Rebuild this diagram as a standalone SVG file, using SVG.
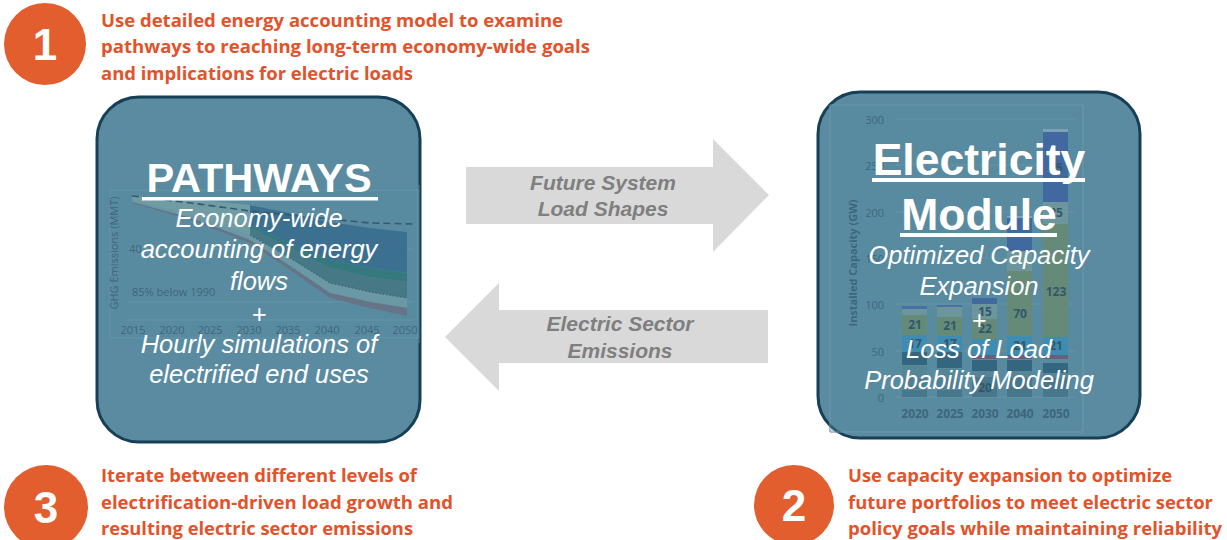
<svg xmlns="http://www.w3.org/2000/svg" width="1227" height="540" viewBox="0 0 1227 540">
<style>
.step{fill:#e35e2e}
.num{fill:#fff;font-family:"Liberation Sans",Arial,sans-serif;font-weight:bold;font-size:44px;text-anchor:middle}
.desc{fill:#e2532b;font-family:"Open Sans","Liberation Sans",sans-serif;font-weight:bold;font-size:18px}
.box{fill:#5a8ba1;stroke:#173f55;stroke-width:3}
.veil{fill:#5a8ba1;opacity:0.38}
.title{fill:#fff;font-family:"Liberation Sans",Arial,sans-serif;font-weight:bold;text-anchor:middle}
.sub{fill:#fff;font-family:"Liberation Sans",Arial,sans-serif;font-style:italic;font-size:25.5px;text-anchor:middle}
.arrow{fill:#d9d9d9}
.alabel{fill:#7f7f7f;font-family:"Liberation Sans",Arial,sans-serif;font-weight:bold;font-style:italic;font-size:21px;text-anchor:middle}
.ax{fill:#2b5066;font-family:"Open Sans","Liberation Sans",sans-serif;font-weight:bold;font-size:12px;text-anchor:middle}
.axs{fill:#2b5066;font-family:"Open Sans","Liberation Sans",sans-serif;font-size:11px}
.grid{stroke:#6b98ad;stroke-width:1}
.bl{fill:#17384a;font-family:"Open Sans","Liberation Sans",sans-serif;font-weight:bold;font-size:12px;text-anchor:middle}
</style>

<!-- Step 1 -->
<g id="step1">
  <circle class="step" cx="45" cy="44" r="41"/>
  <text class="num" x="45" y="60">1</text>
  <text class="desc" x="101" y="27" textLength="462" lengthAdjust="spacingAndGlyphs">Use detailed energy accounting model to examine</text>
  <text class="desc" x="101" y="53" textLength="489" lengthAdjust="spacingAndGlyphs">pathways to reaching long-term economy-wide goals</text>
  <text class="desc" x="101" y="80" textLength="312" lengthAdjust="spacingAndGlyphs">and implications for electric loads</text>
</g>

<!-- Step 3 -->
<g id="step3">
  <circle class="step" cx="46" cy="507" r="42"/>
  <text class="num" x="46" y="523">3</text>
  <text class="desc" x="101" y="482" textLength="316" lengthAdjust="spacingAndGlyphs">Iterate between different levels of</text>
  <text class="desc" x="101" y="509" textLength="352" lengthAdjust="spacingAndGlyphs">electrification-driven load growth and</text>
  <text class="desc" x="101" y="535" textLength="312" lengthAdjust="spacingAndGlyphs">resulting electric sector emissions</text>
</g>

<!-- Step 2 -->
<g id="step2">
  <circle class="step" cx="794" cy="505" r="40"/>
  <text class="num" x="794" y="521">2</text>
  <text class="desc" x="848" y="482" textLength="324" lengthAdjust="spacingAndGlyphs">Use capacity expansion to optimize</text>
  <text class="desc" x="848" y="509" textLength="365" lengthAdjust="spacingAndGlyphs">future portfolios to meet electric sector</text>
  <text class="desc" x="848" y="535" textLength="374" lengthAdjust="spacingAndGlyphs">policy goals while maintaining reliability</text>
</g>

<!-- PATHWAYS node -->
<g id="pathways">
  <rect class="box" x="97" y="97" width="323" height="345" rx="42"/>
  <g id="pathways-chart">
    <rect x="110" y="190" width="308" height="148" fill="none" stroke="#6a98ad" stroke-width="1"/>
    <line class="grid" x1="127" y1="249" x2="413" y2="249"/>
    <line class="grid" x1="127" y1="302" x2="413" y2="302"/>
    <line class="grid" x1="127" y1="320" x2="413" y2="320"/>
    <polygon fill="#7ea7a6" points="132,196 191,199 250,205 290,213 250,236 191,216 132,200"/>
    <polygon fill="#2a5f88" points="250,205 290,213 330,222 370,228 407,232 407,273 370,268 330,260 290,243 250,225"/>
    <polygon fill="#1f6f6a" points="250,225 290,243 330,260 370,268 407,273 407,282 370,277 330,268 290,248 250,228"/>
    <polygon fill="#3b6c76" points="250,228 290,248 330,268 370,277 407,282 407,298 370,292 330,283 290,258 250,235"/>
    <polygon fill="#74a0a6" points="132,200 191,215 250,235 290,258 330,283 370,292 407,298 407,308 370,302 330,293 290,266 250,240 191,218 132,202"/>
    <polygon fill="#6d6677" points="132,202 191,218 250,240 290,266 330,293 370,302 407,308 407,316 370,308 330,298 290,270 250,243 191,220 132,203"/>
    <polyline fill="none" stroke="#1b3d55" stroke-width="1" stroke-dasharray="1.5 2" points="250,235 290,258 330,283 370,292 407,298"/>
    <polyline fill="none" stroke="#1b3d55" stroke-width="1.6" stroke-dasharray="7 4" points="132,196 191,203 250,211 330,219 370,223 413,224"/>
    <text class="axs" x="129" y="253">40</text>
    <text class="axs" x="132" y="296">85% below 1990</text>
    <text class="axs" x="0" y="0" font-size="10" text-anchor="middle" transform="translate(118,253) rotate(-90)">GHG Emissions (MMT)</text>
    <g class="axs" text-anchor="middle" font-size="12">
      <text x="133" y="334">2015</text><text x="172" y="334">2020</text><text x="210" y="334">2025</text><text x="249" y="334">2030</text>
      <text x="288" y="334">2035</text><text x="327" y="334">2040</text><text x="367" y="334">2045</text><text x="405" y="334">2050</text>
    </g>
    <rect class="veil" x="105" y="185" width="315" height="158"/>
  </g>
  <text class="title" x="259" y="192" font-size="41.5">PATHWAYS</text>
  <rect x="142" y="197" width="236" height="3.5" fill="#fff"/>
  <text class="sub" x="259" y="227">Economy-wide</text>
  <text class="sub" x="259" y="258">accounting of energy</text>
  <text class="sub" x="259" y="290">flows</text>
  <text class="sub" x="259" y="323">+</text>
  <text class="sub" x="259" y="353">Hourly simulations of</text>
  <text class="sub" x="259" y="383">electrified end uses</text>
</g>

<!-- Electricity Module node -->
<g id="electricity">
  <path d="M830,420 V432 H842" fill="none" stroke="#cfd6da" stroke-width="1"/>
  <rect class="box" x="818" y="92" width="322" height="346" rx="42"/>
  <g id="electricity-chart">
    <path d="M830,105 H1083 V432 H830 Z" fill="none" stroke="#6a98ad" stroke-width="1"/>
    <g class="grid">
      <line x1="895" y1="397" x2="1075" y2="397"/><line x1="895" y1="351" x2="1075" y2="351"/>
      <line x1="895" y1="304" x2="1075" y2="304"/><line x1="895" y1="258" x2="1075" y2="258"/>
      <line x1="895" y1="212" x2="1075" y2="212"/><line x1="895" y1="165" x2="1075" y2="165"/>
      <line x1="895" y1="119" x2="1075" y2="119"/>
    </g>
    <g class="axs" font-size="14" text-anchor="end">
      <text x="884" y="124">300</text><text x="884" y="170">250</text><text x="884" y="217">200</text>
      <text x="884" y="263">150</text><text x="884" y="309">100</text><text x="884" y="356">50</text><text x="884" y="402">0</text>
    </g>
    <text class="axs" font-size="12.5" font-weight="bold" text-anchor="middle" transform="translate(857,263) rotate(-90)">Installed Capacity (GW)</text>
    <!-- 2020 -->
    <g>
      <rect x="902" y="390" width="25" height="7" fill="#3e6a7c"/>
      <rect x="902" y="378" width="25" height="11" fill="#4b7889"/>
      <rect x="902" y="366" width="25" height="11" fill="#55838f"/>
      <rect x="902" y="352" width="25" height="13" fill="#1d4f6b"/>
      <rect x="902" y="335" width="25" height="17" fill="#2f8dbd"/>
      <rect x="902" y="315" width="25" height="20" fill="#6c895f"/>
      <rect x="902" y="309" width="25" height="6" fill="#789c9a"/>
      <rect x="902" y="306" width="25" height="3" fill="#4060a8"/>
    </g>
    <!-- 2025 -->
    <g>
      <rect x="937" y="390" width="25" height="7" fill="#3e6a7c"/>
      <rect x="937" y="378" width="25" height="11" fill="#4b7889"/>
      <rect x="937" y="369" width="25" height="8" fill="#55838f"/>
      <rect x="937" y="352" width="25" height="16" fill="#1d4f6b"/>
      <rect x="937" y="336" width="25" height="16" fill="#2f8dbd"/>
      <rect x="937" y="317" width="25" height="19" fill="#6c895f"/>
      <rect x="937" y="307" width="25" height="10" fill="#789c9a"/>
      <rect x="937" y="305" width="25" height="2" fill="#4060a8"/>
    </g>
    <!-- 2030 -->
    <g>
      <rect x="972" y="377" width="25" height="20" fill="#3e6a7c"/>
      <rect x="972" y="371" width="25" height="6" fill="#55838f"/>
      <rect x="972" y="360" width="25" height="11" fill="#1d4f6b"/>
      <rect x="972" y="355" width="25" height="4" fill="#6a4a66"/>
      <rect x="972" y="339" width="25" height="16" fill="#2f8dbd"/>
      <rect x="972" y="319" width="25" height="20" fill="#6c895f"/>
      <rect x="972" y="304" width="25" height="15" fill="#789c9a"/>
      <rect x="972" y="298" width="25" height="6" fill="#33539e"/>
    </g>
    <!-- 2040 -->
    <g>
      <rect x="1007" y="378" width="25" height="19" fill="#3e6a7c"/>
      <rect x="1007" y="371" width="25" height="7" fill="#55838f"/>
      <rect x="1007" y="360" width="25" height="11" fill="#1d4f6b"/>
      <rect x="1007" y="355" width="25" height="4" fill="#6a4a66"/>
      <rect x="1007" y="336" width="25" height="19" fill="#2f8dbd"/>
      <rect x="1007" y="271" width="25" height="65" fill="#6c895f"/>
      <rect x="1007" y="251" width="25" height="20" fill="#789c9a"/>
      <rect x="1007" y="218" width="25" height="33" fill="#33539e"/>
      <rect x="1007" y="216" width="25" height="2" fill="#8fb0c8"/>
    </g>
    <!-- 2050 -->
    <g>
      <rect x="1043" y="378" width="25" height="19" fill="#3e6a7c"/>
      <rect x="1043" y="373" width="25" height="5" fill="#55838f"/>
      <rect x="1043" y="363" width="25" height="10" fill="#1d4f6b"/>
      <rect x="1043" y="355" width="25" height="4" fill="#6a4a66"/>
      <rect x="1043" y="337" width="25" height="18" fill="#2f8dbd"/>
      <rect x="1043" y="224" width="25" height="113" fill="#6c895f"/>
      <rect x="1043" y="202" width="25" height="22" fill="#789c9a"/>
      <rect x="1043" y="132" width="25" height="70" fill="#33539e"/>
      <rect x="1043" y="129" width="25" height="3" fill="#8fb0c8"/>
    </g>
    <text class="bl" x="915" y="348">17</text><text class="bl" x="915" y="329">21</text>
    <text class="bl" x="950" y="348">17</text><text class="bl" x="950" y="330">21</text>
    <text class="bl" x="985" y="392">20</text>
    <text class="bl" x="985" y="333">22</text><text class="bl" x="985" y="316">15</text>
    <text class="bl" x="1020" y="350">21</text><text class="bl" x="1020" y="318">70</text>
    <text class="bl" x="1056" y="350">21</text><text class="bl" x="1056" y="296">123</text>
    <text class="bl" x="1056" y="217">25</text><text class="bl" x="1056" y="172">75</text>
    <g class="ax" font-size="13">
      <text x="915" y="418">2020</text><text x="950" y="418">2025</text><text x="985" y="418">2030</text>
      <text x="1020" y="418">2040</text><text x="1056" y="418">2050</text>
    </g>
    <path class="veil" d="M831,106 H1082 V431 H831 Z"/>
  </g>
  <text class="title" x="979" y="175" font-size="44.5">Electricity</text>
  <rect x="872" y="178" width="213" height="4" fill="#fff"/>
  <text class="title" x="979" y="230" font-size="44.5">Module</text>
  <rect x="900" y="233" width="157" height="4" fill="#fff"/>
  <text class="sub" x="979" y="264" font-size="26">Optimized Capacity</text>
  <text class="sub" x="979" y="295" font-size="26">Expansion</text>
  <text class="sub" x="979" y="329" font-size="26">+</text>
  <text class="sub" x="979" y="358" font-size="26">Loss of Load</text>
  <text class="sub" x="979" y="389" font-size="26">Probability Modeling</text>
</g>

<!-- Connectors -->
<g id="connectors">
  <g id="arrow-load-shapes">
    <polygon class="arrow" points="466,167 713,167 713,139 769,195 713,252 713,224 466,224"/>
    <text class="alabel" x="603" y="190">Future System</text>
    <text class="alabel" x="603" y="216">Load Shapes</text>
  </g>
  <g id="arrow-emissions">
    <polygon class="arrow" points="768,310 499,310 499,283 445,337 499,391 499,363 768,363"/>
    <text class="alabel" x="620" y="331">Electric Sector</text>
    <text class="alabel" x="620" y="358">Emissions</text>
  </g>
</g>
</svg>
